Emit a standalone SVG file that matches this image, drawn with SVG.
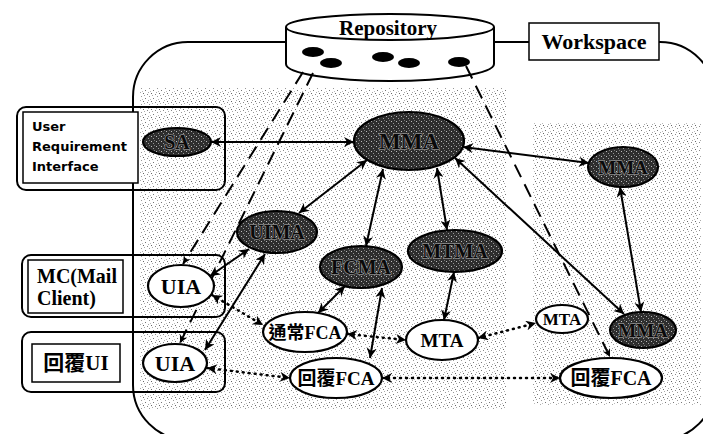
<svg xmlns="http://www.w3.org/2000/svg" width="703" height="434" viewBox="0 0 703 434">
<defs>
<pattern id="stip" width="8" height="8" patternUnits="userSpaceOnUse">
<rect width="8" height="8" fill="#fff"/>
<rect x="1" y="2" width="1" height="1" fill="#777"/>
<rect x="5" y="0" width="1" height="1" fill="#999"/>
<rect x="7" y="5" width="1" height="1" fill="#666"/>
<rect x="3" y="6" width="1" height="1" fill="#888"/>
<rect x="0" y="7" width="1" height="1" fill="#aaa"/>
<rect x="6" y="3" width="1" height="1" fill="#bbb"/>
<rect x="4" y="4" width="1" height="1" fill="#aaa"/>
</pattern>
<pattern id="dark" width="5" height="5" patternUnits="userSpaceOnUse">
<rect width="5" height="5" fill="#2e2e2e"/>
<rect x="1" y="1" width="1" height="1" fill="#bbb"/>
<rect x="3" y="3" width="1" height="1" fill="#999"/>
<rect x="4" y="0" width="1" height="1" fill="#777"/>
</pattern>
<marker id="ah" viewBox="0 0 10 10" refX="10" refY="5" markerWidth="12" markerHeight="10" markerUnits="userSpaceOnUse" orient="auto-start-reverse">
<path d="M0,0 L10,5 L0,10 L3,5 z" fill="#000"/>
</marker>
<marker id="sh" viewBox="0 0 10 10" refX="10" refY="5" markerWidth="10" markerHeight="8" markerUnits="userSpaceOnUse" orient="auto">
<path d="M0,0 L10,5 L0,10 L3,5 z" fill="#000"/>
</marker>
</defs>
<style>
.box{fill:none;stroke:#000;stroke-width:2}
.inner{fill:#fff;stroke:#000;stroke-width:1.5}
.wn{fill:#fff;stroke:#000;stroke-width:2.2}
.dn{fill:url(#dark);stroke:#000;stroke-width:2.2}
.sol{stroke:#000;stroke-width:2;fill:none;marker-start:url(#ah);marker-end:url(#ah)}
.dot{stroke:#000;stroke-width:2.5;fill:none;stroke-dasharray:1 5;stroke-linecap:round;marker-start:url(#ah);marker-end:url(#ah)}
.dash{stroke:#000;stroke-width:2;fill:none;stroke-dasharray:14 8;marker-end:url(#sh)}
.t{font-family:"Liberation Serif","Noto Sans CJK TC",serif;font-weight:bold;text-anchor:middle;fill:#000}
.dt{font-family:"Liberation Serif",serif;font-weight:bold;text-anchor:middle;fill:#0a0a0a;stroke:#8a8a8a;stroke-width:1.4;paint-order:stroke}
.s{font-family:"DejaVu Sans",sans-serif;font-weight:bold;font-size:13px;fill:#000}
</style>
<rect width="703" height="434" fill="#fff"/>
<g id="shading">
<rect x="140" y="88" width="366" height="322" fill="url(#stip)"/>
<rect x="533" y="123" width="168" height="282" fill="url(#stip)"/>
</g>
<g id="workspace-outline">
<rect x="133" y="42" width="582" height="398" rx="55" ry="55" fill="none" stroke="#000" stroke-width="2"/>
</g>
<g id="user-requirement-interface">
<rect class="box" x="17" y="107" width="208" height="83" rx="9"/>
<rect class="inner" x="23" y="112" width="115" height="71"/>
<text class="s" x="32" y="131">User</text>
<text class="s" x="32" y="151">Requirement</text>
<text class="s" x="32" y="171">Interface</text>
</g>
<g id="mail-client">
<rect class="box" x="22" y="255" width="203" height="62" rx="9"/>
<rect class="inner" x="28" y="260" width="95" height="53"/>
<text x="37" y="283" style="font-family:'Liberation Serif',serif;font-size:20px;font-weight:bold">MC(Mail</text>
<text x="37" y="305" style="font-family:'Liberation Serif',serif;font-size:20px;font-weight:bold">Client)</text>
</g>
<g id="reply-ui">
<rect class="box" x="22" y="332" width="203" height="60" rx="9"/>
<rect class="inner" x="32" y="344" width="88" height="38"/>
<text class="t" x="76" y="370" font-size="21">回覆UI</text>
</g>
<g id="repository">
<path d="M286,28 V64 A104,17 0 0 0 494,64 V28 Z" fill="#fff" stroke="#000" stroke-width="2"/>
<ellipse cx="390" cy="27" rx="104" ry="13" fill="#fff" stroke="#000" stroke-width="2"/>
<text class="t" x="388" y="35" font-size="21">Repository</text>
<ellipse cx="313" cy="52" rx="11" ry="5" fill="#000"/>
<ellipse cx="331" cy="63" rx="11" ry="5" fill="#000"/>
<ellipse cx="383" cy="57" rx="11" ry="5" fill="#000"/>
<ellipse cx="409" cy="63" rx="11" ry="5" fill="#000"/>
<ellipse cx="459" cy="62" rx="11" ry="5" fill="#000"/>
</g>
<g id="workspace-label">
<rect x="529" y="23" width="130" height="37" fill="#fff" stroke="#000" stroke-width="1.5"/>
<text class="t" x="594" y="49" font-size="22">Workspace</text>
</g>
<g id="connectors">
<line class="sol" x1="211" y1="142" x2="354" y2="142"/>
<line class="sol" x1="463" y1="147" x2="589" y2="163"/>
<line class="sol" x1="367" y1="160" x2="299" y2="213"/>
<line class="sol" x1="383" y1="169" x2="366" y2="246"/>
<line class="sol" x1="437" y1="168" x2="447" y2="230"/>
<line class="sol" x1="455" y1="158" x2="624" y2="314"/>
<line class="sol" x1="620" y1="187" x2="641" y2="312"/>
<line class="sol" x1="454" y1="272" x2="444" y2="320"/>
<line class="sol" x1="345" y1="286" x2="318" y2="313"/>
<line class="sol" x1="382" y1="288" x2="370" y2="358"/>
<line class="sol" x1="210" y1="276" x2="249" y2="249"/>
<line class="sol" x1="205" y1="350" x2="265" y2="254"/>
<line class="dot" x1="212" y1="295" x2="263" y2="325"/>
<line class="dot" x1="207" y1="368" x2="290" y2="378"/>
<line class="dot" x1="347" y1="334" x2="406" y2="340"/>
<line class="dot" x1="478" y1="338" x2="536" y2="323"/>
<line class="dot" x1="382" y1="378" x2="560" y2="378"/>
<line class="dash" x1="303" y1="72" x2="183" y2="264"/>
<line class="dash" x1="313" y1="73" x2="180" y2="343"/>
<line class="dash" x1="466" y1="66" x2="610" y2="357"/>
</g>
<g id="SA"><ellipse class="dn" cx="177" cy="142" rx="34" ry="14"/><text class="dt" x="177" y="149" font-size="20">SA</text></g>
<g id="MMA-main"><ellipse class="dn" cx="409" cy="141" rx="55" ry="29"/><text class="dt" x="409" y="149" font-size="23">MMA</text></g>
<g id="MMA-top-right"><ellipse class="dn" cx="623" cy="167" rx="35" ry="20"/><text class="dt" x="623" y="174" font-size="19">MMA</text></g>
<g id="MMA-bottom-right"><ellipse class="dn" cx="643" cy="330" rx="33" ry="18"/><text class="dt" x="643" y="337" font-size="19">MMA</text></g>
<g id="UIMA"><ellipse class="dn" cx="277" cy="232" rx="40" ry="21"/><text class="dt" x="277" y="239" font-size="20">UIMA</text></g>
<g id="FCMA"><ellipse class="dn" cx="361" cy="267" rx="41" ry="21"/><text class="dt" x="361" y="274" font-size="20">FCMA</text></g>
<g id="MTMA"><ellipse class="dn" cx="455" cy="251" rx="47" ry="21"/><text class="dt" x="455" y="258" font-size="20">MTMA</text></g>
<g id="UIA-mail"><ellipse class="wn" cx="181" cy="286" rx="33" ry="21"/><text class="t" x="181" y="294" font-size="22">UIA</text></g>
<g id="UIA-reply"><ellipse class="wn" cx="175" cy="363" rx="32" ry="19"/><text class="t" x="175" y="371" font-size="22">UIA</text></g>
<g id="normal-FCA"><ellipse class="wn" cx="305" cy="332" rx="42" ry="20"/><text class="t" x="305" y="339" font-size="18">通常FCA</text></g>
<g id="reply-FCA"><ellipse class="wn" cx="336" cy="378" rx="46" ry="20"/><text class="t" x="336" y="385" font-size="19">回覆FCA</text></g>
<g id="MTA"><ellipse class="wn" cx="442" cy="340" rx="36" ry="20"/><text class="t" x="442" y="347" font-size="19">MTA</text></g>
<g id="MTA-right"><ellipse class="wn" cx="562" cy="319" rx="26" ry="14"/><text class="t" x="562" y="325" font-size="17">MTA</text></g>
<g id="reply-FCA-right"><ellipse class="wn" cx="611" cy="378" rx="51" ry="20"/><text class="t" x="611" y="385" font-size="20">回覆FCA</text></g>
</svg>
